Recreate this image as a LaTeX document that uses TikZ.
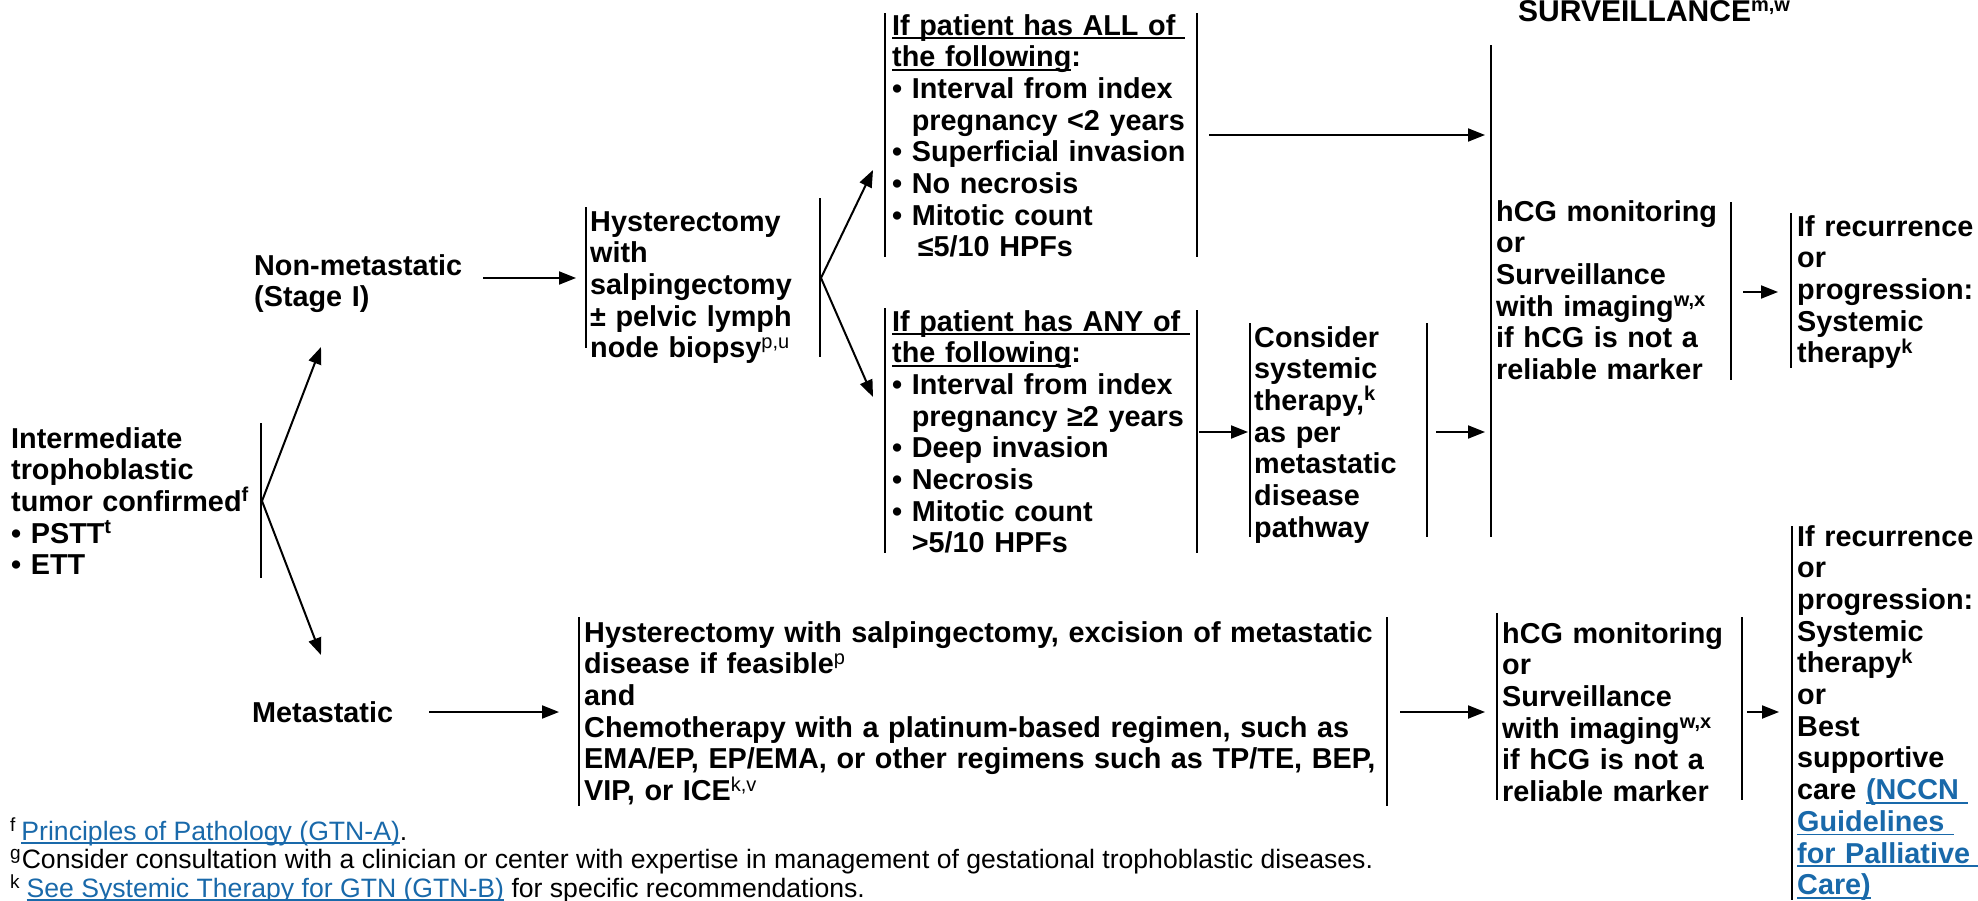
\documentclass[tikz,border=0pt]{standalone}
\usepackage{fontspec}
\setmainfont{Liberation Sans}
\usetikzlibrary{arrows.meta}
\definecolor{linkblue}{RGB}{25,105,170}
\newcommand\sps[1]{\raisebox{9.5pt}{\fontsize{20}{20}\selectfont\bfseries #1}}
\newcommand\spr[1]{\raisebox{9.5pt}{\fontsize{20}{20}\selectfont\mdseries #1}}
\newcommand\spf[1]{\raisebox{9pt}{\fontsize{19}{19}\selectfont\mdseries #1}}
\newcommand\ulb[1]{\leavevmode\setbox0\hbox{#1}\rlap{\rule[-4pt]{\wd0}{1.8pt}}\box0}
\newcommand\ulr[1]{\leavevmode\setbox0\hbox{#1}\rlap{\rule[-3.5pt]{\wd0}{1.3pt}}\box0}
\newcommand\ind{\phantom{• }}
\tikzset{
  txt/.style={anchor=base west, inner sep=0pt, text width=#1, align=left,
    font=\fontsize{28.8}{31.7}\selectfont\bfseries},
  txt/.default=330pt,
  bar/.style={line width=2.2pt},
  arr/.style={line width=2pt, -{Triangle[length=17pt,width=13pt]}},
  foot/.style={anchor=base west, inner sep=0pt, font=\fontsize{26.6}{28.5}\selectfont}
}
\begin{document}
\begin{tikzpicture}[x=1pt,y=-1pt]
\useasboundingbox (0,0) rectangle (1978,900);
% --- left column
\node[txt=240pt] (inter) at (11,448) {Intermediate\\trophoblastic\\tumor confirmed\sps{f}\\• PSTT\sps{t}\\• ETT};
\draw[bar] (261,423) -- (261,578);
\coordinate (interR) at (262,501);
\coordinate (nonmetIn) at (321,347);
\coordinate (metIn) at (321,655);
\draw[arr] (interR) -- (nonmetIn);
\draw[arr] (interR) -- (metIn);
\node[txt=220pt] (nonmet) at (254,275) {Non-metastatic\\(Stage I)};
\node[txt=200pt] (met) at (252,722) {Metastatic};
% --- hysterectomy
\node[txt=240pt] (hyst) at (590,231) {Hysterectomy\\with\\salpingectomy\\± pelvic lymph\\node biopsy\spr{p,u}};
\draw[bar] (586,207) -- (586,348);
\draw[bar] (820,198) -- (820,357);
\coordinate (nonmetOut) at (483,278);
\coordinate (hystL) at (586,278);
\draw[arr, shorten >=10pt] (nonmetOut) -- (hystL);
\coordinate (hystR) at (821,278);
\coordinate (allIn) at (873,170);
\coordinate (anyIn) at (873,397);
\draw[arr] (hystR) -- (allIn);
\draw[arr] (hystR) -- (anyIn);
% --- ALL box
\node[txt=310pt] (all) at (892,35) {\ulb{If patient has ALL of\ }\\\ulb{the following}:\\• Interval from index\\\ind pregnancy <2 years\\• Superficial invasion\\• No necrosis\\• Mitotic count\\\ind\hspace{6pt}≤5/10 HPFs};
\draw[bar] (885,13) -- (885,257);
\draw[bar] (1197,13) -- (1197,257);
% --- ANY box
\node[txt=310pt] (any) at (892,331) {\ulb{If patient has ANY of\ }\\\ulb{the following}:\\• Interval from index\\\ind pregnancy ≥2 years\\• Deep invasion\\• Necrosis\\• Mitotic count\\\ind >5/10 HPFs};
\draw[bar] (885,308) -- (885,553);
\draw[bar] (1197,310) -- (1197,553);
% --- Consider box
\node[txt=170pt] (cons) at (1254,347) {Consider\\systemic\\therapy,\sps{k}\\as per\\metastatic\\disease\\pathway};
\draw[bar] (1250,323) -- (1250,537);
\draw[bar] (1427,323) -- (1427,537);
% --- surveillance
\node[txt=320pt, font=\fontsize{30}{32}\selectfont\bfseries] (title) at (1518,21) {SURVEILLANCE\sps{m,w}};
\draw[bar] (1491,45) -- (1491,537);
\coordinate (allR) at (1197,135);
\coordinate (survTop) at (1491,135);
\draw[arr, shorten <=12pt, shorten >=6pt] (allR) -- (survTop);
\coordinate (anyR) at (1197,432);
\coordinate (consL) at (1250,432);
\draw[arr, shorten <=2pt, shorten >=2pt] (anyR) -- (consL);
\coordinate (consR) at (1427,432);
\coordinate (survMid) at (1491,432);
\draw[arr, shorten <=9pt, shorten >=6pt] (consR) -- (survMid);
\node[txt=240pt] (hcg1) at (1496,221) {hCG monitoring\\or\\Surveillance\\with imaging\sps{w,x}\\if hCG is not a\\reliable marker};
\draw[bar] (1731,202) -- (1731,380);
\coordinate (hcg1R) at (1731,292);
\coordinate (rec1L) at (1791,292);
\draw[arr, shorten <=12pt, shorten >=13pt] (hcg1R) -- (rec1L);
\node[txt=185pt] (rec1) at (1797,236) {If recurrence\\or\\progression:\\Systemic\\therapy\sps{k}};
\draw[bar] (1791,213) -- (1791,368);
% --- metastatic row
\node[txt=820pt] (metbox) at (584,642) {Hysterectomy with salpingectomy, excision of metastatic\\disease if feasible\spr{p}\\and\\Chemotherapy with a platinum-based regimen, such as\\EMA/EP, EP/EMA, or other regimens such as TP/TE, BEP,\\VIP, or ICE\spr{k,v}};
\draw[bar] (579,617) -- (579,806);
\draw[bar] (1387,617) -- (1387,806);
\coordinate (metOut) at (429,712);
\coordinate (metboxL) at (579,712);
\draw[arr, shorten >=20pt] (metOut) -- (metboxL);
\coordinate (metR) at (1387,712);
\coordinate (hcg2L) at (1497,712);
\draw[arr, shorten <=13pt, shorten >=12pt] (metR) -- (hcg2L);
\node[txt=240pt] (hcg2) at (1502,643) {hCG monitoring\\or\\Surveillance\\with imaging\sps{w,x}\\if hCG is not a\\reliable marker};
\draw[bar] (1497,613) -- (1497,800);
\draw[bar] (1742,617) -- (1742,800);
\coordinate (hcg2R) at (1742,712);
\coordinate (rec2L) at (1792,712);
\draw[arr, shorten <=5pt, shorten >=13pt] (hcg2R) -- (rec2L);
\node[txt=185pt] (rec2) at (1797,546) {If recurrence\\or\\progression:\\Systemic\\therapy\sps{k}\\or\\Best\\supportive\\care \textcolor{linkblue}{\ulb{(NCCN\ }}\\\textcolor{linkblue}{\ulb{Guidelines\ }}\\\textcolor{linkblue}{\ulb{for Palliative\ }}\\\textcolor{linkblue}{\ulb{Care)}}};
\draw[bar] (1792,526) -- (1792,900);
% --- footnotes
\node[foot] (fn1) at (10,840) {\spf{f}\hspace{6pt}\textcolor{linkblue}{\ulr{Principles of Pathology (GTN-A)}}.};
\node[foot] (fn2) at (10,868) {\spf{g}\hspace{1pt}Consider consultation with a clinician or center with expertise in management of gestational trophoblastic diseases.};
\node[foot] (fn3) at (10,897) {\spf{k}\hspace{7pt}\textcolor{linkblue}{\ulr{See Systemic Therapy for GTN (GTN-B)}} for specific recommendations.};
\end{tikzpicture}
\end{document}
